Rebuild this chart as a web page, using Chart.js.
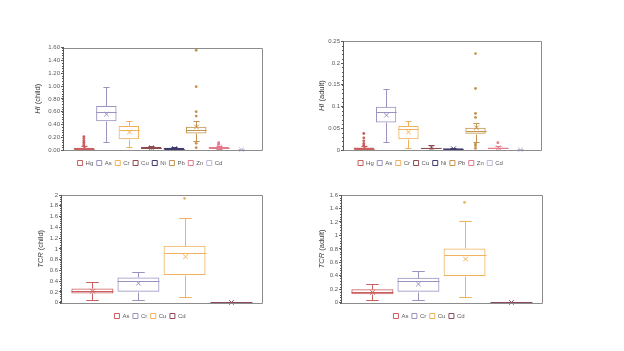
<!DOCTYPE html>
<html>
<head>
<meta charset="utf-8">
<script src="https://cdn.jsdelivr.net/npm/chart.js@4.4.0/dist/chart.umd.min.js"></script>
<style>
  html, body { margin: 0; padding: 0; background: #fff; }
  body { width: 624px; height: 351px; position: relative; overflow: hidden; }
  .panel { position: absolute; width: 290px; height: 150px; }
</style>
</head>
<body>
<div class="panel" style="left:0;top:30px"><canvas id="hiChild" width="290" height="150"></canvas></div>
<div class="panel" style="left:300px;top:30px"><canvas id="hiAdult" width="290" height="150"></canvas></div>
<div class="panel" style="left:0;top:180px"><canvas id="tcrChild" width="290" height="150"></canvas></div>
<div class="panel" style="left:300px;top:180px"><canvas id="tcrAdult" width="290" height="150"></canvas></div>
<script>
// categories + colours
const metals = ['Hg', 'As', 'Cr', 'Cu', 'Ni', 'Pb', 'Zn', 'Cd'];
const metalColors = ['#c95f5e', '#9d91c2', '#f0b25e', '#8e4b4e', '#3e3c6c', '#c4944f', '#e27b8c', '#c2b7d9'];
const carcinogens = ['As', 'Cr', 'Cu', 'Cd'];
const carcColors = ['#c95f5e', '#9d91c2', '#f0b25e', '#8e4b5c'];

// HI (child)
const hiChildMin = [0.002, 0.13, 0.04, 0.005, 0.004, 0.14, 0.01, 0.001];
const hiChildQ1 = [0.012, 0.45, 0.17, 0.016, 0.012, 0.26, 0.025, 0.002];
const hiChildMed = [0.02, 0.60, 0.32, 0.03, 0.022, 0.31, 0.035, 0.003];
const hiChildQ3 = [0.035, 0.69, 0.375, 0.045, 0.034, 0.365, 0.045, 0.005];
const hiChildMax = [0.06, 0.99, 0.46, 0.07, 0.04, 0.45, 0.07, 0.008];
const hiChildMean = [0.03, 0.56, 0.28, 0.035, 0.022, 0.36, 0.045, 0.004];
const hiChildOut = [[0.07, 0.095, 0.12, 0.145, 0.18, 0.21], [], [], [], [], [0.036, 0.104, 0.53, 0.6, 0.99, 1.56], [0.09, 0.115], []];

// HI (adult)
const hiAdultMin = [0.0003, 0.018, 0.0054, 0.0005, 0.0005, 0.019, 0.001, 0.0001];
const hiAdultQ1 = [0.0015, 0.0635, 0.0245, 0.0023, 0.0015, 0.0375, 0.0025, 0.0003];
const hiAdultMed = [0.003, 0.0864, 0.049, 0.004, 0.0025, 0.0428, 0.004, 0.0005];
const hiAdultQ3 = [0.0055, 0.0994, 0.055, 0.0054, 0.004, 0.0512, 0.006, 0.0008];
const hiAdultMax = [0.009, 0.1414, 0.0673, 0.0115, 0.005, 0.0627, 0.01, 0.0012];
const hiAdultMean = [0.0045, 0.080, 0.0413, 0.0045, 0.0028, 0.051, 0.005, 0.0006];
const hiAdultOut = [[0.011, 0.015, 0.021, 0.028, 0.038], [], [], [], [], [0.0038, 0.01, 0.0138, 0.075, 0.084, 0.1414, 0.2217], [0.0168], []];

// TCR (child)
const tcrChildMin = [0.05, 0.043, 0.105, 0.001];
const tcrChildQ1 = [0.173, 0.204, 0.514, 0.002];
const tcrChildMed = [0.217, 0.409, 0.916, 0.004];
const tcrChildQ3 = [0.266, 0.47, 1.059, 0.007];
const tcrChildMax = [0.39, 0.576, 1.573, 0.012];
const tcrChildMean = [0.215, 0.36, 0.854, 0.005];
const tcrChildOut = [[], [], [1.938], []];

// TCR (adult)
const tcrAdultMin = [0.035, 0.035, 0.079, 0.001];
const tcrAdultQ1 = [0.124, 0.163, 0.396, 0.002];
const tcrAdultMed = [0.163, 0.327, 0.703, 0.003];
const tcrAdultQ3 = [0.198, 0.371, 0.807, 0.005];
const tcrAdultMax = [0.277, 0.466, 1.213, 0.009];
const tcrAdultMean = [0.154, 0.277, 0.649, 0.004];
const tcrAdultOut = [[], [], [1.491], []];

Chart.defaults.font.family = '"Liberation Sans", Arial, sans-serif';
Chart.defaults.animation = false;

const fixed2 = v => v.toFixed(2);
const general = v => String(+v.toFixed(3));

function boxPlot(id, o) {
  const n = o.cats.length;
  const L = o.layout;

  // outliers flattened into one scatter dataset
  const outPts = [], outCols = [];
  o.out.forEach((list, i) => list.forEach(v => {
    outPts.push({ x: o.gap + i, y: v });
    outCols.push(o.colors[i]);
  }));

  const boxExtras = {
    id: 'boxExtras',
    afterDatasetsDraw(chart) {
      const { ctx, chartArea: a, scales: { x, y } } = chart;
      const bars = chart.getDatasetMeta(0).data;
      const py = v => Math.round(y.getPixelForValue(v)) + 0.5;
      ctx.save();
      ctx.lineWidth = 1;
      o.cats.forEach((c, i) => {
        const cx = Math.round(x.getPixelForValue(o.gap + i)) + 0.5;
        const half = bars[i].width / 2;
        const cap = half * 0.3;
        ctx.strokeStyle = o.colors[i];
        ctx.beginPath();
        // whiskers
        ctx.moveTo(cx, py(o.q3[i])); ctx.lineTo(cx, py(o.max[i]));
        ctx.moveTo(cx - cap, py(o.max[i])); ctx.lineTo(cx + cap, py(o.max[i]));
        ctx.moveTo(cx, py(o.q1[i])); ctx.lineTo(cx, py(o.min[i]));
        ctx.moveTo(cx - cap, py(o.min[i])); ctx.lineTo(cx + cap, py(o.min[i]));
        // median
        ctx.moveTo(cx - half, py(o.med[i])); ctx.lineTo(cx + half, py(o.med[i]));
        // mean cross
        const my = y.getPixelForValue(o.mean[i]);
        const s = 2.3;
        ctx.moveTo(cx - s, my - s); ctx.lineTo(cx + s, my + s);
        ctx.moveTo(cx - s, my + s); ctx.lineTo(cx + s, my - s);
        ctx.stroke();
      });

      // frame round the plot
      const l = Math.round(a.left) + 0.5, t = Math.round(a.top) + 0.5;
      const r = Math.round(a.right) + 0.5, b = Math.round(a.bottom) + 0.5;
      ctx.strokeStyle = '#8c8c8c';
      ctx.beginPath();
      ctx.moveTo(l, t); ctx.lineTo(r, t); ctx.lineTo(r, b); ctx.lineTo(l, b);
      ctx.stroke();
      ctx.strokeStyle = '#595959';
      ctx.beginPath();
      ctx.moveTo(l, t); ctx.lineTo(l, b);
      // minor ticks
      const minorStep = o.yStep / o.minor;
      for (let k = 0; k * minorStep <= o.yMax + 1e-9; k++) {
        const yy = py(k * minorStep);
        ctx.moveTo(l - 1.5, yy); ctx.lineTo(l, yy);
      }
      ctx.stroke();

      // y title: italic symbol + plain suffix
      ctx.translate(a.left + L.titleDx, (a.top + a.bottom) / 2);
      ctx.rotate(-Math.PI / 2);
      ctx.fillStyle = '#404040';
      ctx.textBaseline = 'middle';
      const fam = '"Liberation Sans", Arial, sans-serif';
      ctx.font = 'italic 7.5px ' + fam;
      const w1 = ctx.measureText(o.titleMain).width;
      ctx.font = '7.5px ' + fam;
      const w2 = ctx.measureText(o.titleSub).width;
      let tx = -(w1 + w2) / 2;
      ctx.font = 'italic 7.5px ' + fam;
      ctx.fillText(o.titleMain, tx, 0);
      ctx.font = '7.5px ' + fam;
      ctx.fillText(o.titleSub, tx + w1, 0);
      ctx.restore();
    }
  };

  return new Chart(document.getElementById(id), {
    type: 'bar',
    data: {
      datasets: [{
        data: o.cats.map((c, i) => ({ x: o.gap + i, y: [o.q1[i], o.q3[i]] })),
        backgroundColor: 'rgba(255,255,255,0)',
        borderColor: o.colors,
        borderWidth: 1,
        borderSkipped: false,
        barPercentage: 0.91,
        categoryPercentage: 1
      }, {
        type: 'scatter',
        data: outPts,
        pointRadius: 1.4,
        pointBorderWidth: 0,
        pointBackgroundColor: outCols
      }]
    },
    options: {
      responsive: false,
      devicePixelRatio: 1,
      layout: { padding: { left: L.pl, right: L.pr, top: L.pt, bottom: L.pb } },
      plugins: {
        tooltip: { enabled: false },
        legend: {
          position: 'bottom',
          labels: {
            boxWidth: 5, boxHeight: 5, padding: 3.5,
            color: '#595959', font: { size: 6 },
            generateLabels: () => o.cats.map((c, i) => ({
              text: c, fillStyle: '#ffffff', strokeStyle: o.colors[i],
              lineWidth: 1, hidden: false, datasetIndex: 0, fontColor: '#595959'
            }))
          }
        }
      },
      scales: {
        x: {
          type: 'linear', min: 0, max: n - 1 + 2 * o.gap, offset: false,
          afterBuildTicks: s => { s.ticks = [{ value: s.min }, { value: s.max }]; },
          afterFit: s => { s.height = L.xh; },
          ticks: { display: false },
          grid: { display: false, offset: false },
          border: { display: false }
        },
        y: {
          min: 0, max: o.yMax,
          afterFit: s => { s.width = L.yw; },
          border: { color: '#595959' },
          grid: { drawOnChartArea: false, tickLength: 2, color: '#595959' },
          ticks: {
            stepSize: o.yStep, autoSkip: false, padding: 1,
            color: '#595959', font: { size: 6 }, callback: o.fmt
          }
        }
      }
    },
    plugins: [boxExtras]
  });
}

boxPlot('hiChild', {
  cats: metals, colors: metalColors, gap: 0.93,
  min: hiChildMin, q1: hiChildQ1, med: hiChildMed, q3: hiChildQ3, max: hiChildMax, mean: hiChildMean, out: hiChildOut,
  yMax: 1.6, yStep: 0.2, minor: 5, fmt: fixed2, titleMain: 'HI', titleSub: ' (child)',
  layout: { pl: 38, pr: 28, pt: 17.7, pb: 4, yw: 25, xh: 6.5, titleDx: -25 }
});

boxPlot('hiAdult', {
  cats: metals, colors: metalColors, gap: 0.93,
  min: hiAdultMin, q1: hiAdultQ1, med: hiAdultMed, q3: hiAdultQ3, max: hiAdultMax, mean: hiAdultMean, out: hiAdultOut,
  yMax: 0.25, yStep: 0.05, minor: 5, fmt: general, titleMain: 'HI', titleSub: ' (adult)',
  layout: { pl: 20, pr: 49, pt: 11.3, pb: 4, yw: 23, xh: 6.5, titleDx: -21 }
});

boxPlot('tcrChild', {
  cats: carcinogens, colors: carcColors, gap: 0.68,
  min: tcrChildMin, q1: tcrChildQ1, med: tcrChildMed, q3: tcrChildQ3, max: tcrChildMax, mean: tcrChildMean, out: tcrChildOut,
  yMax: 2, yStep: 0.2, minor: 5, fmt: general, titleMain: 'TCR', titleSub: ' (child)',
  layout: { pl: 38, pr: 28, pt: 15, pb: 1, yw: 23, xh: 6.8, titleDx: -20 }
});

boxPlot('tcrAdult', {
  cats: carcinogens, colors: carcColors, gap: 0.68,
  min: tcrAdultMin, q1: tcrAdultQ1, med: tcrAdultMed, q3: tcrAdultQ3, max: tcrAdultMax, mean: tcrAdultMean, out: tcrAdultOut,
  yMax: 1.6, yStep: 0.2, minor: 5, fmt: general, titleMain: 'TCR', titleSub: ' (adult)',
  layout: { pl: 16, pr: 48, pt: 15, pb: 1, yw: 25, xh: 6.8, titleDx: -19 }
});
</script>
</body>
</html>
